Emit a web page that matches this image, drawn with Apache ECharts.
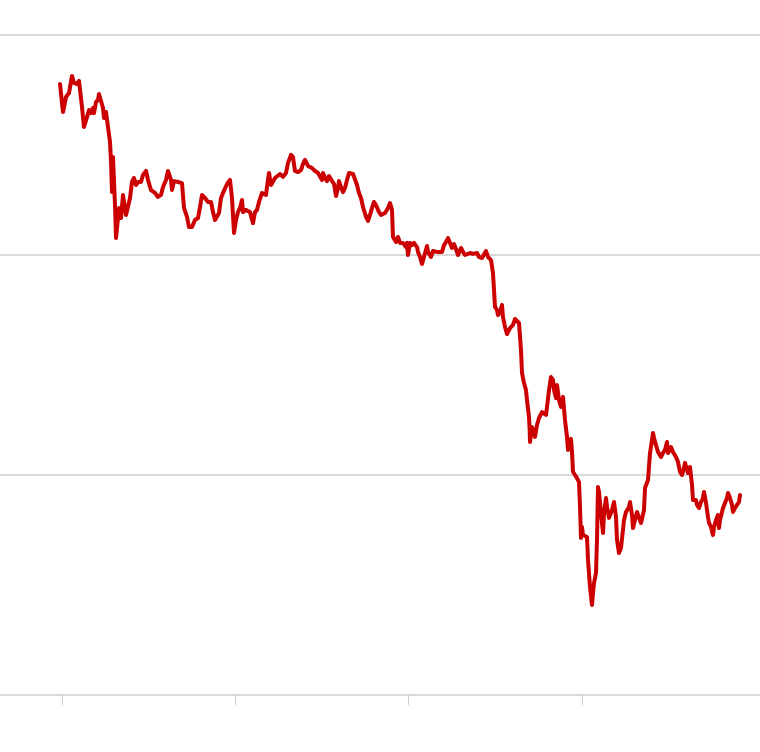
<!DOCTYPE html>
<html>
<head>
<meta charset="utf-8">
<script src="https://cdn.jsdelivr.net/npm/echarts@6/dist/echarts.min.js"></script>
<style>html,body{margin:0;padding:0;background:#fff;}#chart{width:760px;height:752px;}</style>
</head>
<body>
<div id="chart"></div>
<script>
// x: weeks from first tick; y: index level
const weeks = [-0.6,0.3,1.2,1.8,2.1,3.0,3.6,4.5,5.1,5.7,6.0,6.6,7.5,8.1,8.7,9.3,9.6,10.2,10.8,11.1,11.7,12.3,12.6,13.2,13.8,14.4,14.7,15.0,15.3,15.9,16.2,17.1,17.7,18.3,19.2,19.8,20.4,21.0,21.6,22.2,22.8,23.7,24.3,25.2,25.8,26.7,27.3,27.9,28.8,29.7,30.3,31.2,31.8,32.7,33.0,33.6,34.8,36.0,36.6,37.5,38.1,39.0,39.9,40.8,41.4,42.0,42.9,43.8,44.7,45.3,45.9,46.5,47.1,47.7,48.3,48.9,49.5,49.8,50.4,51.0,51.6,52.2,52.8,53.4,54.0,54.3,55.2,55.8,56.4,57.0,57.3,57.9,58.5,59.1,60.0,60.6,61.2,61.5,62.1,62.7,63.3,63.9,64.5,65.4,66.3,67.2,67.8,68.7,69.3,69.9,70.8,71.7,72.3,72.9,73.8,75.0,75.9,76.8,77.4,78.0,78.3,78.9,79.5,80.1,80.7,81.0,81.6,82.2,82.8,83.1,83.7,84.3,84.9,85.5,86.1,86.7,87.3,87.9,88.5,89.1,89.7,90.3,91.2,91.8,92.4,93.0,93.6,94.2,94.8,95.1,95.7,96.3,96.9,97.8,98.4,99.0,99.3,100.2,100.8,101.4,102.3,103.2,103.5,103.8,104.4,105.0,105.6,106.5,106.8,107.4,108.0,108.6,109.5,109.8,110.7,111.3,111.6,112.5,113.1,114.0,114.6,115.2,115.8,116.4,117.0,117.6,118.2,118.8,119.7,120.3,120.9,121.5,122.4,123.3,123.9,124.5,125.1,126.0,126.3,127.2,127.8,128.7,129.3,129.6,129.9,130.5,130.8,131.4,132.0,132.3,132.9,133.5,133.8,134.4,135.3,135.9,136.5,137.1,137.7,138.0,138.6,139.2,139.5,140.1,140.3,140.4,141.0,141.3,141.9,142.5,143.1,144.0,144.6,145.2,145.5,146.1,146.7,147.3,147.6,148.2,148.5,149.1,149.7,150.3,150.9,151.5,151.8,152.1,152.7,153.0,153.3,153.9,154.5,154.8,155.1,155.4,155.7,156.0,156.3,156.9,157.5,157.8,158.4,159.0,159.3,159.6,160.2,160.5,160.8,161.1,161.7,162.3,162.6,163.2,163.5,164.1,164.7,165.0,165.6,166.2,166.5,167.1,167.7,168.0,168.6,169.2,169.5,170.1,170.4,171.0,171.3,171.9,172.5,173.1,173.7,174.0,174.6,174.9,175.5,175.8,176.4,177.0,177.3,177.6,178.2,178.8,179.7,180.3,180.9,181.5,181.8,182.7,183.3,184.2,184.8,185.4,186.0,186.3,186.9,187.5,187.8,188.4,189.0,189.3,189.6,190.2,190.5,191.1,191.7,192.3,192.6,193.2,193.8,194.1,194.7,195.3,195.6,196.2,196.8,197.1,197.4,198.0,198.3,198.9,199.5,199.8,200.4,201.0,201.3,201.9,202.5,203.1,203.4];
const values = [277.7,265.0,271.8,271.4,273.6,281.4,278.2,277.7,279.1,279.1,267.3,258.2,262.7,265.9,264.5,266.8,264.5,269.5,270.5,273.2,273.2,266.8,262.3,265.0,258.2,251.4,242.3,228.6,244.5,222.7,207.7,221.4,216.8,227.3,218.2,217.3,225.9,233.2,235.0,231.8,233.2,233.2,236.4,238.2,234.1,229.5,229.5,228.2,226.4,227.3,230.9,234.1,238.2,234.1,229.5,233.6,233.2,232.7,221.4,217.3,212.7,212.7,215.9,216.8,221.8,227.3,225.9,224.1,224.1,219.5,215.9,215.9,219.1,225.9,228.2,228.6,232.3,231.8,234.1,225.9,210.0,215.9,219.5,221.4,225.0,219.5,220.5,221.4,219.5,219.5,214.5,219.5,220.5,224.1,228.2,228.6,227.3,230.9,237.3,231.8,232.7,235.0,235.5,236.8,235.5,237.3,241.8,245.5,244.5,238.2,237.7,238.6,241.4,243.2,240.5,239.5,238.2,237.3,236.8,234.1,237.3,235.0,233.6,235.9,236.4,233.6,232.3,226.8,230.5,233.6,230.9,228.6,230.5,234.1,237.3,237.7,236.8,236.4,231.8,228.2,225.9,221.8,217.3,215.5,218.2,221.4,224.1,222.7,221.8,219.5,218.2,217.3,219.1,221.4,223.6,220.5,208.2,205.9,208.2,205.5,205.5,203.6,205.5,200.0,205.5,204.5,205.5,203.6,201.4,199.1,195.9,199.1,204.1,201.4,199.1,201.8,202.7,201.4,200.9,201.4,204.5,205.9,207.7,205.5,203.2,205.0,202.7,200.0,203.2,201.4,200.0,200.9,200.9,200.5,200.9,200.9,199.1,198.6,199.1,201.8,199.1,197.7,191.8,184.1,176.4,175.0,172.7,174.1,177.3,171.8,167.3,164.1,165.0,166.8,168.2,170.9,171.4,169.1,156.8,146.4,141.8,138.6,134.1,126.4,120.5,115.0,121.8,120.5,117.3,122.7,125.9,128.6,128.2,127.3,130.9,138.6,144.5,143.2,138.6,135.0,140.9,134.1,130.9,135.5,125.0,117.3,111.4,113.6,116.4,110.5,101.4,100.0,98.6,99.1,96.8,85.5,71.4,76.4,72.7,73.6,71.8,61.4,49.1,40.9,46.4,50.9,55.5,70.5,94.5,92.3,82.7,73.6,82.7,89.5,85.5,80.5,80.9,84.1,87.7,80.9,70.5,64.5,66.8,65.9,79.5,83.2,82.7,85.5,87.7,81.8,75.9,79.5,83.2,84.1,78.2,78.2,84.1,94.1,94.5,97.7,110.0,115.9,119.1,116.8,113.6,110.5,108.2,110.0,111.4,115.0,110.0,112.7,110.5,108.2,105.9,101.4,100.0,101.4,105.5,102.3,100.9,103.6,95.5,88.6,87.7,88.6,86.4,85.0,87.7,89.5,92.3,87.3,80.9,78.2,76.4,72.7,76.4,79.5,81.8,75.9,79.5,83.2,85.0,87.3,89.5,91.8,89.5,86.4,83.2,85.0,86.4,87.7,90.9];
const xTicks = [0, 52, 104, 156];

const chart = echarts.init(document.getElementById('chart'), null, {renderer: 'canvas'});
chart.setOption({
  animation: false,
  backgroundColor: '#ffffff',
  grid: {left: 0, right: 0, top: 35, bottom: 57, containLabel: false},
  xAxis: {
    type: 'value',
    min: -18.6,
    max: 209.4,
    axisLine: {show: true, lineStyle: {color: '#d9d9d9', width: 2}},
    axisTick: {show: true, length: 10, customValues: xTicks, lineStyle: {color: '#cccccc', width: 1}},
    axisLabel: {show: false, customValues: xTicks},
    splitLine: {show: false}
  },
  yAxis: {
    type: 'value',
    min: 0,
    max: 300,
    interval: 100,
    axisLine: {show: false},
    axisTick: {show: false},
    axisLabel: {show: false},
    splitLine: {show: true, lineStyle: {color: '#d9d9d9', width: 2}}
  },
  series: [{
    type: 'line',
    data: weeks.map((w, i) => [w, values[i]]),
    showSymbol: false,
    lineStyle: {color: '#cc0000', width: 4, join: 'round', cap: 'round'},
    itemStyle: {color: '#cc0000'}
  }]
});
</script>
</body>
</html>
